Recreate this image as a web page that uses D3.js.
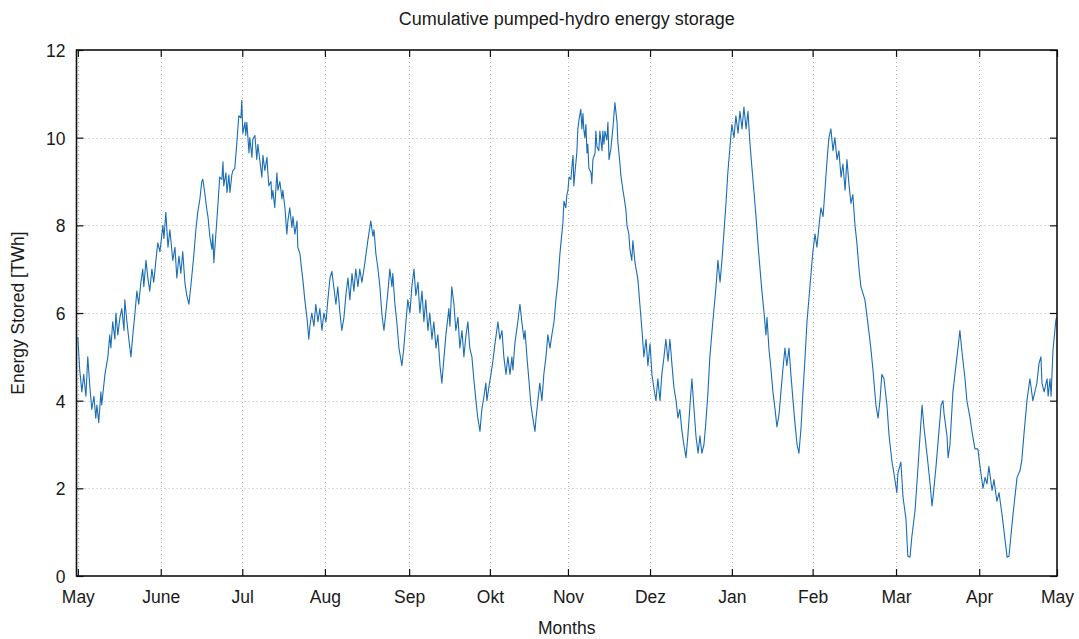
<!DOCTYPE html>
<html>
<head>
<meta charset="utf-8">
<title>Cumulative pumped-hydro energy storage</title>
<script src="https://cdn.jsdelivr.net/npm/d3@7"></script>
<style>
  html, body { margin: 0; padding: 0; background: #ffffff; }
  svg { display: block; }
  text { font-family: "Liberation Sans", Arial, Helvetica, sans-serif; fill: #1a1a1a; }
</style>
</head>
<body>
<div id="chart"></div>
<script>
// Day of the storage year (0 = 1 May) and stored energy in TWh.
const dayOfYear = [
  0.0, 0.7, 1.5, 2.2, 3.0, 3.7, 4.5, 5.2, 6.0, 6.7, 7.1, 7.8, 8.6, 8.9, 10.1, 11.2, 11.9, 12.3, 13.0, 13.8,
  14.2, 14.9, 15.7, 16.4, 17.2, 17.5, 18.3, 19.0, 19.8, 20.5, 21.3, 22.0, 22.7, 23.5, 24.2, 24.6, 25.4, 26.1, 26.8, 27.6,
  28.3, 29.1, 29.8, 30.6, 31.7, 32.1, 32.8, 33.6, 34.3, 35.4, 36.2, 36.9, 37.7, 38.4, 39.1, 39.9, 40.6, 41.4, 42.1, 43.2,
  44.0, 44.7, 45.5, 46.2, 46.6, 47.3, 48.1, 48.5, 49.2, 50.0, 50.3, 50.7, 51.1, 51.8, 52.9, 53.7, 54.1, 54.4, 55.2, 55.6,
  56.3, 56.7, 57.4, 57.8, 58.5, 59.3, 60.0, 60.8, 61.1, 61.5, 62.3, 62.6, 63.0, 63.8, 64.1, 64.9, 65.2, 66.0, 66.4, 66.7,
  67.1, 67.9, 68.6, 69.0, 69.7, 70.5, 70.8, 71.2, 72.0, 72.3, 72.7, 73.4, 74.2, 74.6, 75.3, 76.1, 76.4, 77.2, 77.9, 78.3,
  79.0, 79.8, 80.2, 80.9, 81.7, 82.0, 82.8, 83.5, 83.9, 84.6, 85.4, 86.1, 86.5, 87.2, 88.0, 88.7, 89.5, 90.2, 91.0, 91.7,
  92.5, 93.2, 94.0, 94.7, 95.4, 96.2, 96.9, 97.7, 98.4, 99.2, 99.9, 100.7, 101.4, 102.2, 102.9, 103.6, 104.4, 105.1, 105.9, 107.0,
  108.1, 109.2, 110.0, 110.4, 111.1, 111.8, 112.6, 113.3, 114.1, 114.8, 115.6, 116.3, 117.1, 117.4, 118.2, 118.9, 119.7, 120.8, 121.5, 122.3,
  123.0, 123.8, 124.5, 125.3, 126.0, 126.8, 127.5, 128.3, 129.0, 129.7, 130.5, 131.2, 132.0, 132.7, 133.5, 134.2, 135.0, 135.7, 136.5, 137.2,
  138.3, 138.7, 139.4, 140.2, 140.9, 141.7, 142.4, 143.2, 143.9, 144.7, 145.4, 146.1, 146.9, 147.6, 148.4, 149.1, 149.9, 150.6, 151.4, 152.1,
  152.5, 153.2, 154.0, 154.7, 155.5, 156.6, 157.3, 158.1, 158.8, 159.6, 160.3, 161.1, 161.8, 162.2, 162.9, 164.0, 164.8, 165.5, 166.3, 166.7,
  167.4, 168.1, 168.9, 169.6, 170.4, 170.8, 171.5, 172.2, 173.0, 173.7, 174.5, 175.2, 176.0, 176.7, 177.5, 178.2, 179.0, 179.7, 180.4, 180.8,
  181.2, 181.9, 182.3, 182.7, 183.1, 183.8, 184.2, 184.6, 184.9, 185.3, 186.0, 186.4, 186.8, 187.5, 187.9, 188.3, 188.6, 189.0, 189.4, 189.8,
  190.1, 190.5, 191.3, 191.6, 192.0, 192.8, 193.1, 193.5, 194.2, 194.6, 195.4, 195.7, 196.1, 196.5, 197.2, 197.6, 198.0, 198.7, 199.1, 199.5,
  200.2, 201.0, 201.3, 202.1, 202.4, 203.2, 203.6, 204.3, 204.7, 205.4, 205.8, 206.5, 206.9, 207.7, 208.4, 208.8, 209.5, 210.3, 211.0, 211.8,
  212.5, 213.3, 214.0, 214.7, 215.5, 216.2, 217.0, 217.7, 218.5, 219.2, 220.0, 220.7, 221.5, 222.2, 223.0, 223.7, 224.4, 225.2, 225.9, 226.7,
  227.4, 228.2, 228.9, 229.7, 230.4, 231.2, 231.9, 232.6, 233.4, 234.1, 234.9, 235.6, 236.7, 237.9, 238.6, 239.4, 240.1, 240.8, 241.6, 242.3,
  243.1, 243.8, 244.6, 245.3, 246.1, 246.8, 247.6, 248.3, 249.1, 249.8, 250.5, 251.3, 252.0, 252.8, 253.5, 254.3, 255.0, 255.8, 256.5, 256.9,
  257.6, 258.4, 259.1, 259.9, 260.6, 261.4, 262.1, 262.8, 263.6, 264.3, 265.1, 265.8, 266.6, 267.3, 268.1, 268.8, 269.6, 270.3, 271.1, 271.8,
  272.9, 274.0, 274.8, 275.5, 276.3, 277.0, 277.8, 278.5, 279.3, 280.0, 280.7, 281.5, 282.2, 283.0, 283.7, 284.5, 285.2, 286.0, 286.7, 287.5,
  288.2, 288.9, 289.7, 290.4, 291.2, 291.9, 293.4, 294.5, 295.6, 296.4, 297.5, 298.3, 299.0, 299.7, 300.5, 301.6, 302.4, 303.5, 304.2, 305.3,
  305.7, 306.8, 307.6, 308.7, 309.4, 310.2, 310.9, 312.1, 313.2, 314.7, 315.4, 316.5, 317.7, 318.4, 318.8, 319.9, 321.0, 321.8, 322.5, 322.9,
  324.0, 324.4, 325.1, 326.2, 327.7, 328.8, 329.6, 330.7, 331.4, 332.6, 333.3, 334.4, 335.5, 336.3, 337.4, 338.2, 338.9, 339.6, 340.8, 341.5,
  342.6, 343.4, 344.5, 345.2, 346.4, 347.1, 347.8, 348.6, 350.1, 351.2, 351.9, 352.7, 353.8, 354.9, 356.0, 357.5, 358.3, 359.0, 359.4, 360.2,
  361.3, 361.7, 362.4, 362.8, 363.5, 364.6, 365.0
];

const energyTWh = [
  5.45, 4.7, 4.2, 4.6, 4.1, 5.0, 4.3, 3.8, 4.1, 3.6, 3.9, 3.5, 4.2, 3.9, 4.6, 5.0, 5.5, 5.2, 5.8, 5.4,
  6.0, 5.5, 5.9, 6.1, 5.6, 6.3, 5.8, 5.4, 5.0, 5.5, 6.0, 6.5, 6.2, 6.7, 7.0, 6.6, 7.2, 6.8, 6.5, 7.0,
  6.7, 7.2, 7.6, 7.4, 8.0, 7.7, 8.3, 7.5, 7.9, 7.2, 7.5, 6.8, 7.3, 6.9, 7.4, 6.7, 6.4, 6.2, 6.6, 7.3,
  7.9, 8.3, 8.6, 9.0, 9.05, 8.75, 8.35, 8.2, 7.75, 7.45, 7.8, 7.15, 7.5, 8.1, 9.1, 9.05, 9.45, 8.9, 9.2, 8.75,
  9.15, 8.75, 9.15, 9.25, 9.3, 9.9, 10.5, 10.45, 10.85, 10.1, 10.35, 10.05, 10.35, 9.65, 10.0, 9.55, 9.95, 10.05, 9.75, 9.5,
  9.85, 9.45, 9.1, 9.6, 9.25, 9.55, 9.25, 8.9, 9.0, 8.6, 8.8, 8.4, 9.2, 8.8, 9.0, 8.6, 8.8, 8.4, 7.8, 8.1,
  8.4, 7.95, 8.2, 7.8, 8.1, 7.5, 7.35, 6.95, 6.75, 6.3, 5.9, 5.4, 5.7, 6.0, 5.7, 6.2, 5.8, 6.1, 5.6, 6.0,
  5.8, 6.3, 6.8, 6.95, 6.6, 6.2, 6.6, 6.0, 5.6, 5.9, 6.4, 6.8, 6.3, 6.9, 6.5, 7.0, 6.6, 7.0, 6.7, 7.15,
  7.65, 8.1, 7.75, 7.9, 7.35, 7.05, 6.6, 6.0, 5.6, 6.0, 6.5, 7.0, 6.6, 6.9, 6.2, 5.8, 5.2, 4.8, 5.2, 5.8,
  6.3, 6.0, 6.6, 7.0, 6.4, 6.7, 6.0, 6.5, 5.8, 6.3, 5.6, 6.0, 5.4, 5.8, 5.2, 5.5, 4.8, 4.4, 5.0, 5.5,
  6.1, 5.7, 6.6, 6.2, 5.6, 5.9, 5.2, 5.6, 5.0, 5.5, 5.8, 5.2, 5.0, 4.5, 4.0, 3.6, 3.3, 3.8, 4.1, 4.4,
  4.0, 4.3, 4.6, 4.9, 5.3, 5.8, 5.4, 5.6, 5.0, 4.6, 5.0, 4.6, 5.0, 4.7, 5.3, 5.8, 6.2, 5.8, 5.4, 5.6,
  5.0, 4.5, 3.9, 3.6, 3.3, 3.6, 4.0, 4.4, 4.0, 4.6, 5.0, 5.5, 5.2, 5.5, 5.8, 6.3, 6.75, 7.35, 7.8, 8.05,
  8.55, 8.4, 8.7, 8.8, 9.1, 9.05, 9.35, 9.6, 8.9, 9.2, 9.65, 10.2, 10.4, 10.65, 10.2, 10.55, 10.2, 10.0, 10.3, 9.65,
  9.85, 9.3, 9.2, 8.95, 9.5, 9.65, 10.15, 9.8, 9.7, 10.15, 9.7, 10.15, 9.85, 10.15, 9.95, 10.35, 9.5, 9.75, 10.0, 10.25,
  10.8, 10.35, 9.9, 9.4, 9.15, 8.8, 8.65, 8.35, 8.0, 7.8, 7.45, 7.2, 7.65, 7.15, 6.9, 6.75, 6.2, 5.6, 5.0, 5.4,
  4.8, 5.3, 4.6, 4.3, 4.0, 4.5, 4.0, 4.6, 5.0, 5.4, 4.9, 5.4, 4.8, 4.3, 4.0, 3.6, 3.8, 3.3, 3.0, 2.7,
  3.2, 3.9, 4.5, 3.8, 3.2, 2.8, 3.2, 2.8, 3.0, 3.5, 4.2, 5.0, 5.8, 6.6, 7.2, 6.7, 7.2, 7.8, 8.5, 9.2,
  9.8, 10.3, 10.0, 10.5, 10.1, 10.6, 10.2, 10.7, 10.2, 10.6, 9.9, 9.3, 8.8, 8.2, 7.6, 7.0, 6.5, 6.0, 5.5, 5.9,
  5.2, 4.7, 4.2, 3.8, 3.4, 3.7, 4.2, 4.7, 5.2, 4.8, 5.2, 4.6, 4.0, 3.5, 3.0, 2.8, 3.4, 4.2, 5.0, 5.8,
  6.6, 7.4, 7.8, 7.5, 8.0, 8.4, 8.2, 8.8, 9.5, 10.0, 10.2, 9.7, 10.0, 9.5, 9.7, 9.1, 9.4, 8.8, 9.5, 8.9,
  8.5, 8.7, 8.0, 7.6, 7.0, 6.6, 6.3, 5.77, 5.2, 4.7, 3.9, 3.6, 4.0, 4.6, 4.5, 3.9, 3.2, 2.6, 2.35, 1.9,
  2.35, 2.6, 1.8, 1.3, 0.45, 0.43, 0.9, 1.5, 2.5, 3.9, 3.4, 2.8, 2.1, 1.6, 1.8, 2.5, 3.3, 3.9, 4.0, 3.7,
  3.2, 2.7, 3.0, 4.2, 5.0, 5.6, 5.1, 4.5, 4.0, 3.6, 3.3, 2.9, 2.9, 2.5, 2.0, 2.25, 2.1, 2.5, 1.95, 2.2,
  1.7, 1.9, 1.4, 1.05, 0.43, 0.45, 0.9, 1.4, 2.25, 2.4, 2.65, 3.25, 4.0, 4.5, 4.0, 4.4, 4.85, 5.0, 4.4, 4.2,
  4.5, 4.1, 4.5, 4.1, 5.15, 5.85, 5.9
];

// Month tick positions (day of storage year) and their labels.
const monthTickDays = [0, 30.9, 61.3, 92.1, 123.5, 153.6, 182.7, 213.3, 243.8, 273.9, 305.0, 336.0, 365];
const monthLabels = ["May", "June", "Jul", "Aug", "Sep", "Okt", "Nov", "Dez", "Jan", "Feb", "Mar", "Apr", "May"];
const energyTicks = [0, 2, 4, 6, 8, 10, 12];

const titleText = "Cumulative pumped-hydro energy storage";
const xLabelText = "Months";
const yLabelText = "Energy Stored [TWh]";

const width = 1079, height = 639;
const plot = { left: 76.5, right: 1057, top: 50, bottom: 576 };

const svg = d3.select("#chart").append("svg")
  .attr("width", width).attr("height", height)
  .attr("viewBox", [0, 0, width, height]);

const x = d3.scaleLinear().domain([-0.5, 365]).range([plot.left, plot.right]);
const y = d3.scaleLinear().domain([0, 12]).range([plot.bottom, plot.top]);

const series = dayOfYear.map((d, i) => ({ day: d, value: energyTWh[i] }));

// dotted grid
const grid = svg.append("g").attr("stroke", "#b4b4b4").attr("stroke-width", 1)
  .attr("stroke-dasharray", "1,3");
grid.selectAll("line.v").data(monthTickDays.filter(d => d > 0 && d < 365).concat([0]))
  .join("line").attr("class", "v")
  .attr("x1", d => Math.round(x(d)) + 0.5).attr("x2", d => Math.round(x(d)) + 0.5)
  .attr("y1", plot.top).attr("y2", plot.bottom);
grid.selectAll("line.h").data(energyTicks.filter(v => v > 0 && v < 12))
  .join("line").attr("class", "h")
  .attr("x1", plot.left).attr("x2", plot.right)
  .attr("y1", d => Math.round(y(d)) + 0.5).attr("y2", d => Math.round(y(d)) + 0.5);

// axes with inward ticks on all four sides
const fontSize = 17.5;
const tickLen = 7;

const xBottom = d3.axisBottom(x).tickValues(monthTickDays)
  .tickFormat((d, i) => monthLabels[i]).tickSizeInner(-tickLen).tickSizeOuter(0).tickPadding(0);
const xTop = d3.axisTop(x).tickValues(monthTickDays)
  .tickFormat(() => "").tickSizeInner(-tickLen).tickSizeOuter(0);
const yLeft = d3.axisLeft(y).tickValues(energyTicks)
  .tickFormat(d3.format("d")).tickSizeInner(-tickLen).tickSizeOuter(0).tickPadding(11);
const yRight = d3.axisRight(y).tickValues(energyTicks)
  .tickFormat(() => "").tickSizeInner(-tickLen).tickSizeOuter(0);

function styleAxis(g) {
  g.select(".domain").remove();
  g.selectAll(".tick line").attr("stroke", "#111").attr("stroke-width", 1.2);
  g.selectAll("text").attr("font-size", fontSize).attr("fill", "#1a1a1a")
    .attr("font-family", "'Liberation Sans', Arial, sans-serif");
}

svg.append("g").attr("transform", `translate(0,${plot.bottom})`).call(xBottom).call(styleAxis)
  .call(g => g.selectAll("text").attr("dy", null).attr("y", 27));
svg.append("g").attr("transform", `translate(0,${plot.top})`).call(xTop).call(styleAxis);
svg.append("g").attr("transform", `translate(${plot.left},0)`).call(yLeft).call(styleAxis)
  .call(g => g.selectAll("text").attr("dy", "0.38em"));
svg.append("g").attr("transform", `translate(${plot.right},0)`).call(yRight).call(styleAxis);

// storage curve
const line = d3.line().x(d => x(d.day)).y(d => y(d.value));
svg.append("path").datum(series)
  .attr("fill", "none")
  .attr("stroke", "#1a6db4")
  .attr("stroke-width", 1.1)
  .attr("stroke-linejoin", "round")
  .attr("d", line);

// frame
svg.append("rect")
  .attr("x", plot.left).attr("y", plot.top)
  .attr("width", plot.right - plot.left).attr("height", plot.bottom - plot.top)
  .attr("fill", "none").attr("stroke", "#111").attr("stroke-width", 1.6);

// titles
svg.append("text").attr("x", (plot.left + plot.right) / 2).attr("y", 25)
  .attr("text-anchor", "middle").attr("font-size", 18).text(titleText);
svg.append("text").attr("x", (plot.left + plot.right) / 2).attr("y", 634)
  .attr("text-anchor", "middle").attr("font-size", fontSize).text(xLabelText);
svg.append("text")
  .attr("transform", `translate(24,${(plot.top + plot.bottom) / 2}) rotate(-90)`)
  .attr("text-anchor", "middle").attr("font-size", fontSize).text(yLabelText);
</script>
</body>
</html>
